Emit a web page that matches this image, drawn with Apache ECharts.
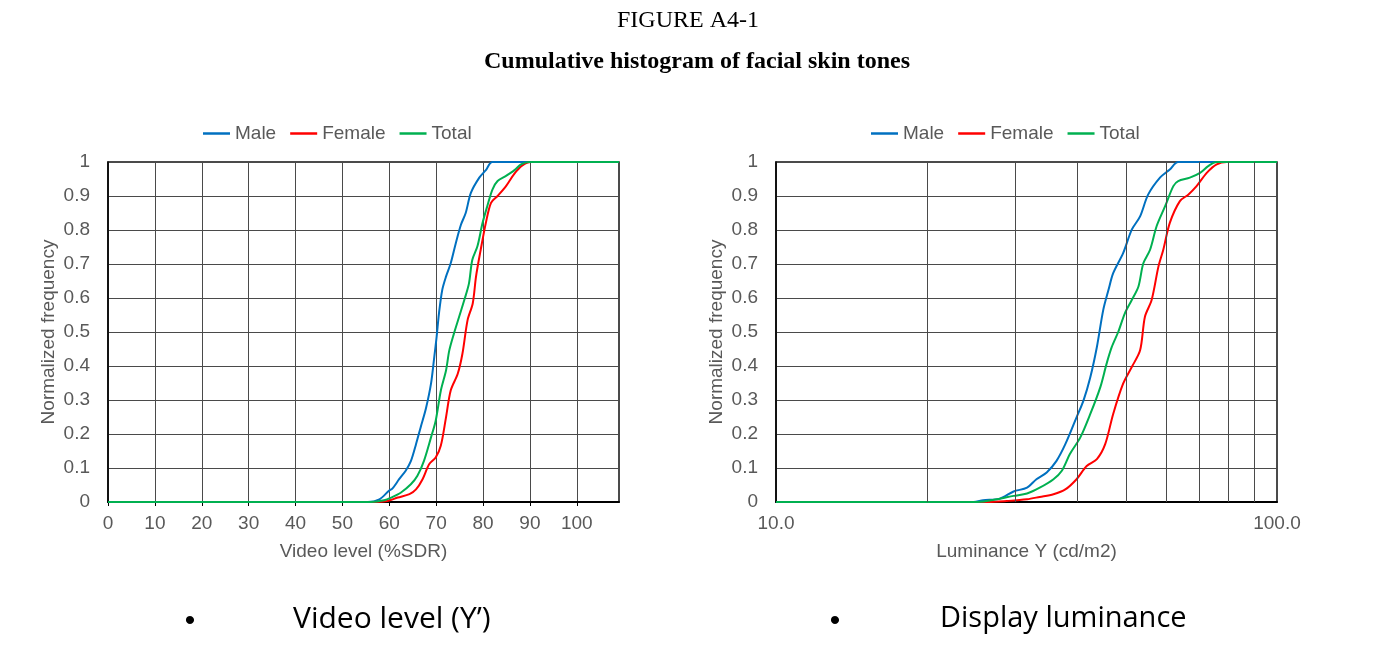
<!DOCTYPE html>
<html>
<head>
<meta charset="utf-8">
<script src="https://cdn.jsdelivr.net/npm/echarts@6/dist/echarts.min.js"></script>
<style>
  html, body { margin: 0; padding: 0; background: #fff; }
  #main { width: 1377px; height: 671px; }
</style>
</head>
<body>
<div id="main"></div>
<script>
// cumulative histogram, video level (%SDR) vs normalized frequency
var maleVideo = [[0, 0], [55.4, 0], [57.9, 0.008], [60, 0.034], [60.7, 0.04], [62.1, 0.067], [63.5, 0.092],
    [64.6, 0.12], [65.7, 0.17], [66.7, 0.22], [67.8, 0.274], [68.9, 0.348], [69.6, 0.427], [70.1, 0.486],
    [70.6, 0.555], [71.3, 0.624], [72.1, 0.663], [73.1, 0.702], [74.2, 0.762], [75.3, 0.816], [76.3, 0.85],
    [77.4, 0.909], [79.2, 0.954], [80.6, 0.976], [82, 1], [109, 1]];
var femaleVideo = [[0, 0], [56.8, 0], [59.6, 0.003], [61.8, 0.013], [64.3, 0.023], [65.7, 0.037], [67.1, 0.067],
    [68.5, 0.111], [69.9, 0.131], [71, 0.166], [72.1, 0.249], [73.1, 0.328], [74.6, 0.377], [75.6, 0.436],
    [76.7, 0.535], [77.8, 0.584], [78.5, 0.663], [79.5, 0.742], [80.6, 0.821], [81.7, 0.88], [83.1, 0.9],
    [84.9, 0.929], [86.7, 0.966], [88.4, 0.99], [90.2, 1], [109, 1]];
var totalVideo = [[0, 0], [56.1, 0], [58.9, 0.005], [60.4, 0.013], [62.5, 0.028], [64.6, 0.052], [66, 0.077],
    [67.4, 0.121], [68.9, 0.19], [69.9, 0.239], [71, 0.328], [72.1, 0.387], [72.8, 0.446], [73.8, 0.496],
    [74.9, 0.545], [76, 0.594], [77, 0.643], [77.7, 0.712], [78.8, 0.752], [79.9, 0.821], [80.9, 0.87],
    [82, 0.919], [83.1, 0.944], [84.9, 0.959], [86.7, 0.976], [88.1, 0.993], [89.8, 1], [109, 1]];

// display luminance (cd/m2), log axis
var maleLum = [[10, 0], [24.8, 0], [25.9, 0.005], [28, 0.01], [29.8, 0.031], [31.7, 0.042], [33.1, 0.067],
    [34.7, 0.087], [36.3, 0.121], [37.8, 0.17], [39.8, 0.249], [41.1, 0.299], [42.4, 0.367], [43.7, 0.456],
    [45, 0.565], [46.1, 0.624], [47.1, 0.673], [49.3, 0.732], [51.3, 0.801], [53.3, 0.84], [55.3, 0.904],
    [58.4, 0.954], [61.1, 0.978], [63.5, 1], [100, 1]];
var femaleLum = [[10, 0], [26.5, 0], [28.9, 0.003], [31.7, 0.008], [33.6, 0.015], [35.8, 0.023], [37.8, 0.037],
    [39.8, 0.067], [41.7, 0.106], [43.7, 0.126], [45.4, 0.17], [47.1, 0.259], [49.3, 0.348], [51.3, 0.397],
    [53.3, 0.446], [54.5, 0.545], [56.2, 0.594], [58, 0.693], [59.3, 0.742], [61.1, 0.821], [64, 0.885],
    [66.5, 0.904], [69.1, 0.929], [72.4, 0.968], [75.8, 0.993], [79.4, 1], [100, 1]];
var totalLum = [[10, 0], [25.3, 0], [27.6, 0.008], [29.8, 0.018], [31.7, 0.025], [33.6, 0.042], [35.8, 0.067],
    [37.2, 0.092], [38.6, 0.141], [40.5, 0.19], [42.4, 0.259], [44.4, 0.338], [45.7, 0.407], [46.8, 0.456],
    [48.2, 0.5], [49.7, 0.555], [51.3, 0.594], [52.9, 0.634], [54.1, 0.702], [55.8, 0.742], [57.5, 0.811],
    [59.8, 0.87], [62.1, 0.929], [63.5, 0.944], [67, 0.954], [70.2, 0.968], [72.9, 0.988], [75.8, 1], [100, 1]];

var logGridLines = [20, 30, 40, 50, 60, 70, 80, 90];

var seriesNames = ["Male", "Female", "Total"];
var seriesColors = ["#0070C0", "#FF0000", "#00B050"];

var chart = echarts.init(document.getElementById("main"));

var labelStyle = { color: "#595959", fontFamily: "Liberation Sans", fontSize: 19 };
var gridLine = { show: true, lineStyle: { color: "#4a4a4a", width: 1 } };

function curve(name, idx, data, color) {
    return {
        name: name,
        type: "line",
        xAxisIndex: idx,
        yAxisIndex: idx,
        data: data,
        symbol: "none",
        smooth: 0.3,
        z: 3,
        lineStyle: { color: color, width: 2 },
        itemStyle: { color: color }
    };
}

function yAxis(idx) {
    return {
        type: "value",
        gridIndex: idx,
        min: 0,
        max: 1,
        interval: 0.1,
        name: "Normalized frequency",
        nameLocation: "middle",
        nameGap: 50,
        nameTextStyle: labelStyle,
        axisLine: { show: true, lineStyle: { color: "#000", width: 1.5 } },
        axisTick: { show: false },
        axisLabel: Object.assign({ margin: 18 }, labelStyle),
        splitLine: gridLine
    };
}

function legend(left) {
    return {
        data: seriesNames,
        left: left,
        top: 119,
        icon: "rect",
        itemWidth: 27,
        itemHeight: 2.5,
        itemGap: 14,
        textStyle: labelStyle
    };
}

var option = {
    animation: false,
    textStyle: { fontFamily: "Liberation Sans" },
    legend: [legend(198), legend(866)],
    grid: [
        { left: 108, right: 758, top: 162, bottom: 169, show: true, borderColor: "#111", borderWidth: 1.5 },
        { left: 776, right: 100, top: 162, bottom: 169, show: true, borderColor: "#111", borderWidth: 1.5 }
    ],
    xAxis: [{
        type: "value",
        gridIndex: 0,
        min: 0,
        max: 109,
        interval: 10,
        name: "Video level (%SDR)",
        nameLocation: "middle",
        nameGap: 40,
        nameTextStyle: labelStyle,
        axisLine: { show: true, lineStyle: { color: "#000", width: 2 } },
        axisTick: { show: true, length: 4, lineStyle: { color: "#000" } },
        axisLabel: Object.assign({ showMaxLabel: false, margin: 12 }, labelStyle),
        splitLine: gridLine
    }, {
        type: "log",
        logBase: 10,
        gridIndex: 1,
        min: 10,
        max: 100,
        name: "Luminance Y (cd/m2)",
        nameLocation: "middle",
        nameGap: 40,
        nameTextStyle: labelStyle,
        axisLine: { show: true, lineStyle: { color: "#000", width: 2 } },
        axisTick: { show: false },
        axisLabel: Object.assign({
            margin: 12,
            formatter: function (v) { return Number(v).toFixed(1); }
        }, labelStyle),
        splitLine: gridLine
    }],
    yAxis: [yAxis(0), yAxis(1)],
    series: [
        curve("Male", 0, maleVideo, seriesColors[0]),
        curve("Female", 0, femaleVideo, seriesColors[1]),
        curve("Total", 0, totalVideo, seriesColors[2]),
        {
            type: "line",
            xAxisIndex: 1,
            yAxisIndex: 1,
            data: [],
            z: 1,
            silent: true,
            markLine: {
                silent: true,
                symbol: "none",
                label: { show: false },
                lineStyle: { color: "#4a4a4a", width: 1, type: "solid" },
                data: logGridLines.map(function (v) { return { xAxis: v }; })
            }
        },
        curve("Male", 1, maleLum, seriesColors[0]),
        curve("Female", 1, femaleLum, seriesColors[1]),
        curve("Total", 1, totalLum, seriesColors[2])
    ],
    graphic: [
        { type: "text", x: 688, y: 21, style: { text: "FIGURE A4-1", font: "24px 'Liberation Serif'", fill: "#000", align: "center", verticalAlign: "middle" } },
        { type: "text", x: 697, y: 62, style: { text: "Cumulative histogram of facial skin tones", font: "bold 24px 'Liberation Serif'", fill: "#000", align: "center", verticalAlign: "middle" } },
        { type: "text", x: 190, y: 622, style: { text: "\u2022", font: "30px 'Liberation Sans'", fill: "#000", align: "center", verticalAlign: "middle" } },
        { type: "text", x: 293, y: 619, style: { text: "Video level (Y\u2019)", font: "30px 'Open Sans'", fill: "#000", verticalAlign: "middle" } },
        { type: "text", x: 835, y: 622, style: { text: "\u2022", font: "30px 'Liberation Sans'", fill: "#000", align: "center", verticalAlign: "middle" } },
        { type: "text", x: 940, y: 619, style: { text: "Display luminance", font: "29px 'Open Sans'", fill: "#000", verticalAlign: "middle" } }
    ]
};

chart.setOption(option);
</script>
</body>
</html>
